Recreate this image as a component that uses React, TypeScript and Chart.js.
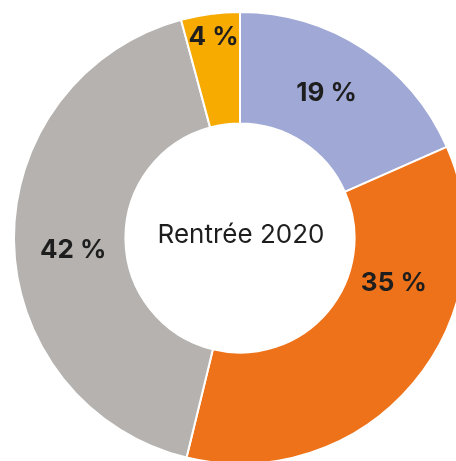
import React, { useEffect, useRef } from "react";
import { Chart, registerables } from "chart.js";

Chart.register(...registerables);

const categories = ["Catégorie A", "Catégorie B", "Catégorie C", "Catégorie D"];
const values = [18.4, 35.4, 42.0, 4.2];
const valueLabels = ["19 %", "35 %", "42 %", "4 %"];
const colors = ["#A0A9D6", "#EE7219", "#B5B2AF", "#F7AA00"];
const centerText = "Rentrée 2020";
// label placement inside each arc: fraction along the arc angle, fraction across the ring
const labelAngleFrac = [0.467, 0.314, 0.476, 0.504];
const labelRadiusFrac = [0.483, 0.41, 0.473, 0.788];

const FONT = "Inter, 'Open Sans', sans-serif";

const labelPlugin = {
  id: "labelPlugin",
  afterDatasetsDraw(chart: any) {
    const ctx = chart.ctx;
    const meta = chart.getDatasetMeta(0);
    ctx.save();
    ctx.fillStyle = "#1E1E1E";
    ctx.textAlign = "center";
    ctx.textBaseline = "middle";
    ctx.font = `bold 26px ${FONT}`;
    meta.data.forEach((arc: any, i: number) => {
      const p = arc.getProps(["x", "y", "startAngle", "endAngle", "innerRadius", "outerRadius"], true);
      const a = p.startAngle + labelAngleFrac[i] * (p.endAngle - p.startAngle);
      const r = p.innerRadius + labelRadiusFrac[i] * (p.outerRadius - p.innerRadius);
      ctx.fillText(valueLabels[i], p.x + r * Math.cos(a), p.y + r * Math.sin(a));
    });
    const first = meta.data[0];
    if (first) {
      ctx.font = `normal 26px ${FONT}`;
      ctx.fillText(centerText, first.x + 1, first.y - 3);
    }
    ctx.restore();
  },
};

export default function App() {
  const ref = useRef<HTMLCanvasElement | null>(null);
  useEffect(() => {
    if (!ref.current) return;
    const chart = new Chart(ref.current, {
      type: "doughnut",
      data: {
        labels: categories,
        datasets: [
          {
            data: values,
            backgroundColor: colors,
            borderColor: "#FFFFFF",
            borderWidth: 2,
            hoverOffset: 0,
          },
        ],
      },
      options: {
        responsive: false,
        animation: false,
        cutout: "50.7%",
        layout: { padding: 0 },
        plugins: {
          legend: { display: false },
          tooltip: { enabled: false },
        },
      },
      plugins: [labelPlugin],
    });
    return () => chart.destroy();
  }, []);

  return (
    <div
      style={{
        position: "fixed",
        left: 0,
        top: 0,
        width: 456,
        height: 461,
        overflow: "hidden",
        background: "#FFFFFF",
      }}
    >
      <canvas
        ref={ref}
        width={454}
        height={454}
        style={{ position: "absolute", left: 13, top: 11, width: 454, height: 454 }}
      />
    </div>
  );
}
